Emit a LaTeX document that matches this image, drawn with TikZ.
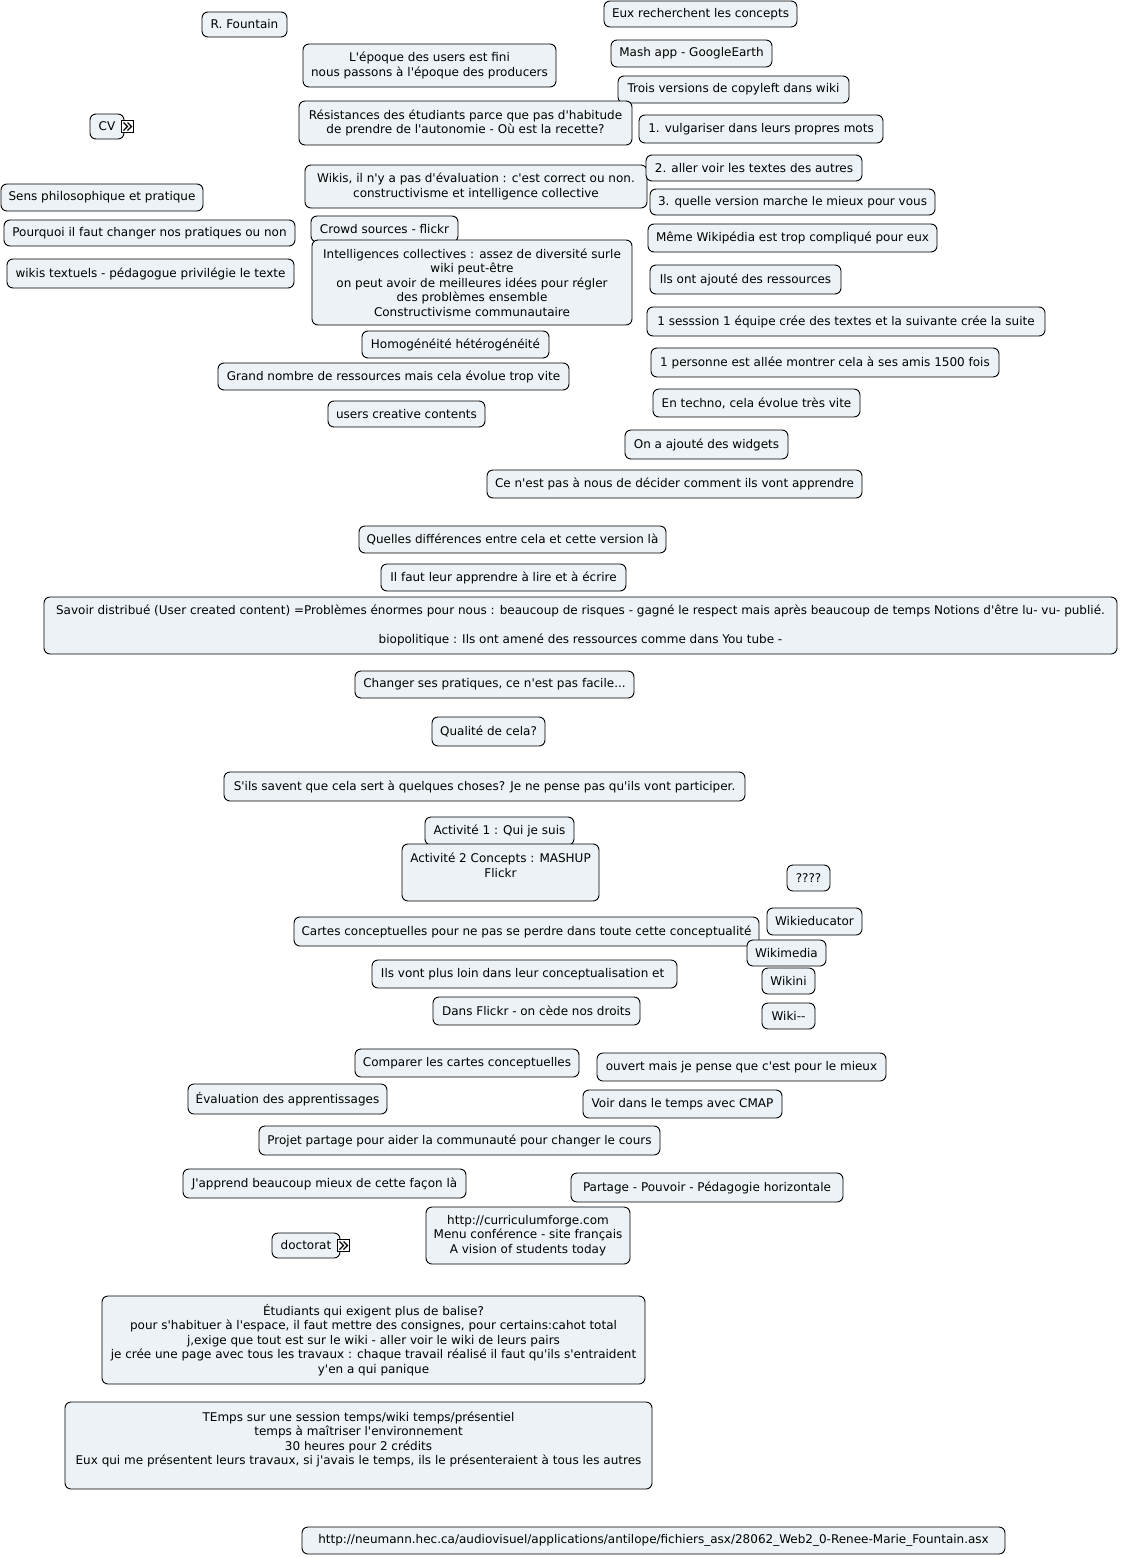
\documentclass[tikz,border=0pt]{standalone}
\usepackage{fontspec}
\setmainfont{DejaVu Sans}[Ligatures=TeXOff]
\definecolor{boxfill}{HTML}{ECF2F5}
\tikzset{
  box/.style={draw=black, fill=boxfill, line width=0.9pt, rounded corners=6pt,
    align=center, inner xsep=2pt, inner ysep=1pt,
    font=\fontsize{12}{14.6}\selectfont},
  iconbox/.style={draw=black, fill=white, line width=0.8pt, minimum size=12pt, inner sep=0pt},
  chev/.style={line width=1.1pt, line join=miter}
}
\newcommand\bx[6]{\node[box, minimum width={#4-#2}, minimum height={#5-#3}] (#1) at ({(#2+#4)/2},{(#3+#5)/2}) {#6};}
\newcommand\chevicon[3]{%
  \node[iconbox] (#1) at (#2,#3) {};
  \draw[chev] ([xshift=-4pt,yshift=4pt]#1.center) -- ([xshift=0pt,yshift=0pt]#1.center) -- ([xshift=-4pt,yshift=-4pt]#1.center);
  \draw[chev] ([xshift=0pt,yshift=4pt]#1.center) -- ([xshift=4pt,yshift=0pt]#1.center) -- ([xshift=0pt,yshift=-4pt]#1.center);
}
\begin{document}
\begin{tikzpicture}[x=1pt,y=-1pt]
\fill[white] (0,0) rectangle (1120,1558);
\useasboundingbox (0,0) rectangle (1120,1558);
\bx{rf}{202}{12}{287}{37}{R. Fountain}
\bx{eux}{604}{1}{797}{27}{Eux recherchent les concepts}
\bx{epoque}{303}{44}{556}{87}{L'époque des users est fini\\nous passons à l'époque des producers}
\bx{mash}{611}{40}{772}{67}{Mash app - GoogleEarth}
\bx{trois}{618}{76}{849}{103}{Trois versions de copyleft dans wiki}
\bx{resist}{299}{101}{632}{145}{Résistances des étudiants parce que pas d'habitude\\ de prendre de l'autonomie - Où est la recette?}
\bx{vulg}{639}{115}{883}{143}{1. vulgariser dans leurs propres mots}
\bx{cv}{90}{114}{124}{139}{CV}
\chevicon{cvicon}{127.5}{126.5}
\bx{wikis}{305}{165}{647}{208}{Wikis, il n'y a pas d'évaluation : c'est correct ou non.\\constructivisme et intelligence collective}
\bx{aller}{646}{155}{862}{181}{2. aller voir les textes des autres}
\bx{quelle}{650}{189}{935}{215}{3. quelle version marche le mieux pour vous}
\bx{sens}{1}{184}{203}{211}{Sens philosophique et pratique}
\bx{crowd}{311}{216}{458}{242}{Crowd sources - flickr}
\bx{pourquoi}{4}{220}{295}{246}{Pourquoi il faut changer nos pratiques ou non}
\bx{meme}{648}{224}{937}{252}{Même Wikipédia est trop compliqué pour eux}
\bx{intel}{312}{240}{632}{325}{Intelligences collectives : assez de diversité surle\\wiki peut-être\\on peut avoir de meilleures idées pour régler\\des problèmes ensemble\\Constructivisme communautaire}
\bx{wikist}{7}{259}{294}{288}{wikis textuels - pédagogue privilégie le texte}
\bx{ilsont}{650}{265}{841}{294}{Ils ont ajouté des ressources}
\bx{session}{647}{307}{1045}{336}{1 sesssion 1 équipe crée des textes et la suivante crée la suite}
\bx{homog}{362}{331}{549}{358}{Homogénéité hétérogénéité}
\bx{personne}{651}{348}{999}{377}{1 personne est allée montrer cela à ses amis 1500 fois}
\bx{grand}{218}{363}{569}{390}{Grand nombre de ressources mais cela évolue trop vite}
\bx{techno}{653}{389}{860}{417}{En techno, cela évolue très vite}
\bx{users}{328}{401}{485}{427}{users creative contents}
\bx{widgets}{625}{430}{788}{459}{On a ajouté des widgets}
\bx{decider}{487}{470}{862}{498}{Ce n'est pas à nous de décider comment ils vont apprendre}
\bx{diff}{359}{526}{666}{553}{Quelles différences entre cela et cette version là}
\bx{lire}{381}{564}{626}{591}{Il faut leur apprendre à lire et à écrire}
\bx{savoir}{44}{597}{1117}{654}{Savoir distribué (User created content) =Problèmes énormes pour nous : beaucoup de risques - gagné le respect mais après beaucoup de temps Notions d'être lu- vu- publié.\\[14.6pt]biopolitique : Ils ont amené des ressources comme dans You tube -}
\bx{changer}{355}{671}{634}{698}{Changer ses pratiques, ce n'est pas facile...}
\bx{qualite}{432}{717}{545}{746}{Qualité de cela?}
\bx{savent}{224}{772}{745}{801}{S'ils savent que cela sert à quelques choses? Je ne pense pas qu'ils vont participer.}
\bx{act1}{425}{817}{574}{845}{Activité 1 : Qui je suis}
\bx{act2}{402}{844}{599}{901}{Activité 2 Concepts : MASHUP\\Flickr\\\mbox{}}
\bx{q}{787}{865}{830}{891}{????}
\bx{wedu}{767}{908}{862}{935}{Wikieducator}
\bx{cartes}{294}{917}{759}{946}{Cartes conceptuelles pour ne pas se perdre dans toute cette conceptualité}
\bx{wmedia}{747}{940}{826}{966}{Wikimedia}
\bx{loin}{372}{960}{677}{988}{Ils vont plus loin dans leur conceptualisation et }
\bx{wikini}{762}{968}{815}{994}{Wikini}
\bx{flickr}{433}{997}{640}{1025}{Dans Flickr - on cède nos droits}
\bx{wikimm}{762}{1003}{815}{1029}{Wiki--}
\bx{comparer}{355}{1049}{579}{1077}{Comparer les cartes conceptuelles}
\bx{ouvert}{597}{1053}{886}{1081}{ouvert mais je pense que c'est pour le mieux}
\bx{eval}{188}{1084}{387}{1114}{Évaluation des apprentissages}
\bx{cmap}{583}{1090}{782}{1118}{Voir dans le temps avec CMAP}
\bx{projet}{259}{1126}{660}{1155}{Projet partage pour aider la communauté pour changer le cours}
\bx{japprend}{183}{1169}{466}{1198}{J'apprend beaucoup mieux de cette façon là}
\bx{partage}{571}{1173}{843}{1202}{Partage - Pouvoir - Pédagogie horizontale}
\bx{curr}{426}{1207}{630}{1264}{http://curriculumforge.com\\Menu conférence - site français\\A vision of students today}
\bx{doct}{272}{1233}{340}{1258}{doctorat}
\chevicon{docticon}{343.5}{1245.5}
\bx{etud}{102}{1296}{645}{1384}{Étudiants qui exigent plus de balise?\\pour s'habituer à l'espace, il faut mettre des consignes, pour certains:cahot total\\j,exige que tout est sur le wiki -  aller voir le wiki de leurs pairs\\je crée une page avec tous les travaux : chaque travail réalisé il faut qu'ils s'entraident\\y'en a qui panique}
\bx{temps}{65}{1402}{652}{1489}{TEmps sur une session temps/wiki temps/présentiel\\temps à maîtriser l'environnement\\30 heures pour 2 crédits\\Eux qui me présentent leurs travaux, si j'avais le temps, ils le présenteraient à tous les autres\\\mbox{}}
\bx{url}{302}{1527}{1005}{1554}{http://neumann.hec.ca/audiovisuel/applications/antilope/fichiers\_asx/28062\_Web2\_0-Renee-Marie\_Fountain.asx}
\end{tikzpicture}
\end{document}
